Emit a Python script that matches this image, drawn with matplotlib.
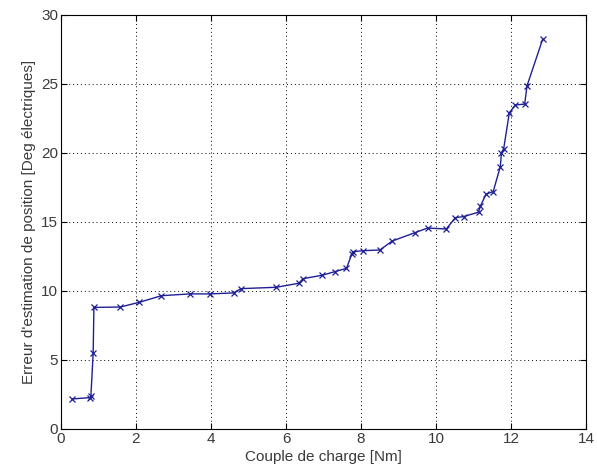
import matplotlib
matplotlib.use("Agg")
from matplotlib import pyplot as plt

# Couple de charge [Nm]
couple = [0.30, 0.78, 0.80, 0.86, 0.88, 1.58, 2.09, 2.68, 3.45, 3.98,
          4.60, 4.80, 5.74, 6.34, 6.45, 6.96, 7.30, 7.61, 7.75, 7.79,
          8.06, 8.50, 8.83, 9.44, 9.77, 10.27, 10.51, 10.73, 11.13, 11.18,
          11.33, 11.52, 11.71, 11.74, 11.80, 11.95, 12.11, 12.36, 12.42, 12.84]
# Erreur d'estimation [Deg electriques]
erreur = [2.17, 2.27, 2.40, 5.50, 8.80, 8.83, 9.17, 9.65, 9.78, 9.78,
          9.85, 10.16, 10.26, 10.55, 10.88, 11.13, 11.39, 11.63, 12.65, 12.84,
          12.91, 12.96, 13.61, 14.22, 14.55, 14.48, 15.30, 15.38, 15.70, 16.15,
          17.00, 17.19, 19.00, 20.00, 20.30, 22.90, 23.46, 23.53, 24.84, 28.24]

xticks = [0, 2, 4, 6, 8, 10, 12, 14]
yticks = [0, 5, 10, 15, 20, 25, 30]

plt.rcParams['font.family'] = ['Liberation Sans', 'DejaVu Sans']
plt.rcParams['font.size'] = 11

fig = plt.figure(figsize=(5.97, 4.75), dpi=100)
ax = fig.add_axes([0.102, 0.097, 0.880, 0.872])

ax.plot(couple, erreur, color='#1f1f96', lw=1, marker='x', ms=4.5, mew=0.9)

ax.set_xlim(0, 14)
ax.set_ylim(0, 30)
ax.set_xticks(xticks)
ax.set_yticks(yticks)
ax.grid(True, linestyle=(0, (1, 3)), color='black', lw=0.7)
ax.tick_params(direction='in', top=True, right=True, length=4, colors='black',
               labelcolor='#3a3a3a', pad=2)
for s in ax.spines.values():
    s.set_linewidth(0.8)

ax.set_xlabel("Couple de charge [Nm]", color='#3a3a3a', labelpad=3)
ax.set_ylabel("Erreur d'estimation de position [Deg électriques]", color='#3a3a3a',
              labelpad=4)

fig.savefig("out.png", dpi=100)
